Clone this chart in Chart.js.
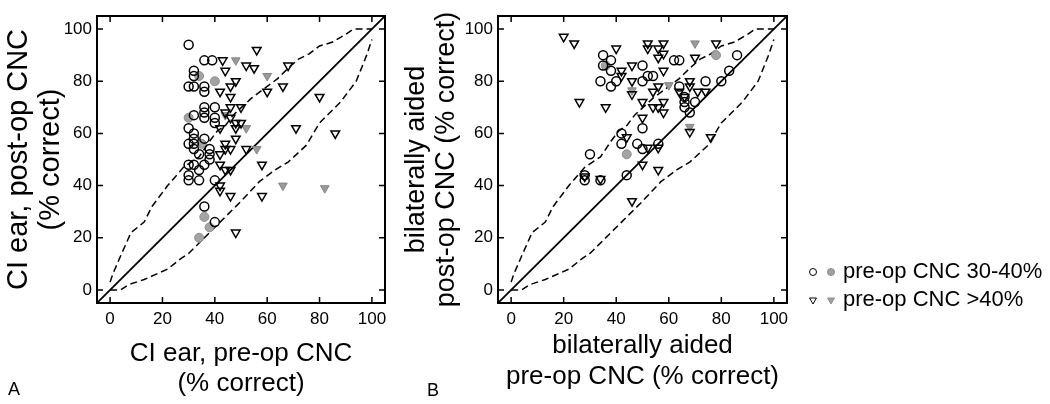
<!DOCTYPE html>
<html>
<head>
<meta charset="utf-8">
<script src="https://cdn.jsdelivr.net/npm/chart.js@4.4.1/dist/chart.umd.min.js"></script>
<style>
  body { margin: 0; background: #fff; }
  #wrap { position: relative; width: 1050px; height: 404px; font-family: 'Liberation Sans', Arial, sans-serif; }
  canvas { position: absolute; top: 0; }
  #cA { left: 0; }
  #cB { left: 400px; }
  .tag { position: absolute; font-size: 18px; line-height: 18px; color: #000; }
</style>
</head>
<body>
<div id="wrap">
  <canvas id="cA" width="400" height="404"></canvas>
  <canvas id="cB" width="650" height="404"></canvas>
  <div class="tag" style="left:8px; top:380px">A</div>
  <div class="tag" style="left:427px; top:381px">B</div>
</div>
<script>
const FONT = "'Liberation Sans', Arial, sans-serif";

// axes
const axisMin = -5, axisMax = 105;
const tickValues = [0, 20, 40, 60, 80, 100];

// 95% band (same in both panels)
const upperBandX = [0, 1, 4, 8, 13, 16, 19, 22, 28, 34, 38, 41, 44, 47, 54, 60, 64, 68, 72, 76, 80, 85, 90, 93, 100];
const upperBandY = [3, 6, 13, 22, 26, 32, 36, 40, 47, 51, 57, 61, 63, 67, 73.5, 78, 81, 85, 88.5, 90.5, 93.5, 95, 98, 100, 100];
const lowerBandX = [0, 4, 7, 13, 22, 27, 30, 37, 42, 50, 57, 63, 68, 75, 80, 84, 88, 94, 98, 100];
const lowerBandY = [0, 0, 2, 4, 8, 12, 14, 21, 26, 34, 41.5, 46, 49, 55.5, 64, 68, 72, 80, 90, 96];

// panel A: CI ear
const aCircleX = [30, 36, 39, 32, 32, 30, 32, 36, 36, 36, 40, 36, 32, 36, 40, 40, 30, 32, 32, 36, 30, 32, 32, 38, 34, 38, 38, 30, 32, 36, 34, 30, 30, 34, 40, 36, 40];
const aCircleY = [94, 88, 88, 84, 82, 78, 78, 78, 76, 70, 70, 68, 67, 66, 66, 64, 62, 60, 58, 58, 56, 56, 54, 54, 52, 52, 50, 48, 48, 48, 46, 44, 42, 42, 42, 32, 26];
const aGrayCircleX = [34, 40, 30, 35, 36, 38, 34];
const aGrayCircleY = [82, 80, 66, 56, 28, 24, 20];
const aTriX = [56, 43, 52, 55, 68, 44, 48, 46, 42, 60, 66, 46, 80, 46, 50, 44, 46, 48, 50, 42, 48, 71, 86, 48, 44, 44, 46, 52, 42, 58, 42, 44, 46, 42, 42, 46, 58, 48];
const aTriY = [92, 88, 86, 85, 86, 84, 80, 78, 76, 76, 78, 74, 74, 70, 70, 68, 66, 64, 64, 62, 62, 62, 60, 58, 56, 54, 54, 54, 52, 48, 48, 46, 46, 40, 38, 36, 36, 22];
const aGrayTriX = [48, 60, 44, 52, 56, 66, 82];
const aGrayTriY = [88, 82, 67, 62, 54, 40, 39];

// panel B: bilaterally aided
const bCircleX = [35, 38, 35, 38, 50, 62, 64, 86, 83, 52, 54, 34, 40, 50, 38, 74, 80, 64, 66, 66, 70, 66, 68, 50, 42, 42, 48, 50, 56, 30, 44, 28, 28, 34];
const bCircleY = [90, 88, 86, 84, 86, 88, 88, 90, 84, 82, 82, 80, 80, 80, 78, 80, 80, 78, 74, 72, 72, 70, 68, 62, 60, 56, 56, 54, 56, 52, 44, 44, 42, 42];
const bGrayCircleX = [36, 78, 44];
const bGrayCircleY = [86, 90, 52];
const bTriX = [20, 24, 40, 52, 52, 56, 58, 58, 78, 56, 70, 42, 46, 42, 58, 46, 68, 56, 46, 54, 68, 64, 71, 74, 66, 26, 36, 50, 54, 58, 56, 58, 50, 68, 76, 44, 56, 52, 50, 56, 28, 34, 46];
const bTriY = [97, 94.5, 92.5, 94.5, 92.5, 92.5, 94.5, 90.5, 94.5, 89, 89, 84, 86, 82, 84, 80, 80, 78, 75, 76, 78, 76, 76, 76, 74, 72, 70, 72, 70, 72, 70, 68, 66, 60.5, 58.5, 58.5, 54.5, 54.5, 48, 46, 43.5, 42.5, 34];
const bGrayTriX = [70, 60, 46, 68];
const bGrayTriY = [94.5, 78.5, 76.5, 62.5];

const pts = (xs, ys) => xs.map((x, i) => ({ x: x, y: ys[i] }));

function markerSets(cx, cy, gcx, gcy, tx, ty, gtx, gty) {
  return [
    { data: pts(cx, cy), pointStyle: 'circle', pointRadius: 4.5, backgroundColor: 'rgba(0,0,0,0)', borderColor: '#000', borderWidth: 1.5 },
    { data: pts(tx, ty), pointStyle: 'triangle', rotation: 180, pointRadius: 5, backgroundColor: 'rgba(0,0,0,0)', borderColor: '#000', borderWidth: 1.5 },
    { data: pts(gcx, gcy), pointStyle: 'circle', pointRadius: 4.5, backgroundColor: '#a3a3a3', borderColor: '#8e8e8e', borderWidth: 1 },
    { data: pts(gtx, gty), pointStyle: 'triangle', rotation: 180, pointRadius: 5, backgroundColor: '#9a9a9a', borderColor: '#858585', borderWidth: 1 },
    { data: pts([axisMin, axisMax], [axisMin, axisMax]), showLine: true, pointRadius: 0, borderColor: '#000', borderWidth: 1.8 },
    { data: pts(upperBandX, upperBandY), showLine: true, pointRadius: 0, borderColor: '#000', borderWidth: 1.5, borderDash: [7, 4] },
    { data: pts(lowerBandX, lowerBandY), showLine: true, pointRadius: 0, borderColor: '#000', borderWidth: 1.5, borderDash: [7, 4] }
  ];
}

// box round the plot plus inward ticks on all four sides
const framePlugin = {
  id: 'frame',
  afterDatasetsDraw(chart) {
    const { ctx, chartArea: a, scales: { x, y } } = chart;
    ctx.save();
    ctx.strokeStyle = '#000';
    ctx.lineWidth = 1.5;
    ctx.beginPath();
    tickValues.forEach(v => {
      const px = x.getPixelForValue(v), py = y.getPixelForValue(v);
      ctx.moveTo(px, a.bottom); ctx.lineTo(px, a.bottom - 6);
      ctx.moveTo(px, a.top); ctx.lineTo(px, a.top + 6);
      ctx.moveTo(a.left, py); ctx.lineTo(a.left + 6, py);
      ctx.moveTo(a.right, py); ctx.lineTo(a.right - 6, py);
    });
    ctx.stroke();
    ctx.lineWidth = 2;
    ctx.strokeRect(a.left, a.top, a.right - a.left, a.bottom - a.top);
    ctx.restore();
  }
};

// legend sits to the right of panel B
const legendRows = ['pre-op CNC 30-40%', 'pre-op CNC >40%'];
const legendPlugin = {
  id: 'sideLegend',
  afterDraw(chart) {
    const ctx = chart.ctx;
    const rows = [
      { y: 272, style: 'circle', r: 3.5, rot: 0 },
      { y: 300, style: 'triangle', r: 4, rot: 180 }
    ];
    ctx.save();
    rows.forEach((row, i) => {
      ctx.strokeStyle = '#000';
      ctx.fillStyle = 'rgba(0,0,0,0)';
      Chart.helpers.drawPoint(ctx, { pointStyle: row.style, radius: row.r, rotation: row.rot, borderWidth: 1.5 }, 413, row.y);
      ctx.strokeStyle = '#8e8e8e';
      ctx.fillStyle = '#a0a0a0';
      Chart.helpers.drawPoint(ctx, { pointStyle: row.style, radius: row.r, rotation: row.rot, borderWidth: 1 }, 431, row.y);
      ctx.fillStyle = '#000';
      ctx.font = '22px ' + FONT;
      ctx.textBaseline = 'middle';
      ctx.textAlign = 'left';
      ctx.fillText(legendRows[i], 443, row.y);
    });
    ctx.restore();
  }
};

function axis(dir, title, size, lh, pad, fit) {
  return {
    type: 'linear',
    min: axisMin,
    max: axisMax,
    afterBuildTicks: s => { s.ticks = tickValues.map(v => ({ value: v })); },
    afterFit: s => { if (dir === 'x') s.height = fit; else s.width = fit; },
    grid: { display: false, drawTicks: false },
    border: { display: false },
    ticks: { color: '#000', font: { family: FONT, size: 17 }, padding: dir === 'x' ? 6 : 5, maxRotation: 0, autoSkip: false },
    title: { display: true, text: title, color: '#000', font: { family: FONT, size: size, lineHeight: lh }, padding: pad }
  };
}

function panel(id, datasets, xTitle, yTitle, opts, extraPlugins) {
  return new Chart(document.getElementById(id), {
    type: 'scatter',
    data: { datasets: datasets },
    options: {
      responsive: false,
      animation: false,
      events: [],
      layout: { padding: { left: 0, top: 16, right: opts.right, bottom: 0 } },
      plugins: { legend: { display: false }, tooltip: { enabled: false } },
      scales: {
        x: axis('x', xTitle, 26, opts.xLH, { top: 0, bottom: opts.xPad }, 101),
        y: axis('y', yTitle, opts.ySize, 1.1, { top: opts.yPad, bottom: 0 }, opts.yWidth)
      }
    },
    plugins: [framePlugin].concat(extraPlugins)
  });
}

panel('cA',
  markerSets(aCircleX, aCircleY, aGrayCircleX, aGrayCircleY, aTriX, aTriY, aGrayTriX, aGrayTriY),
  ['CI ear, pre-op CNC', '(% correct)'],
  ['CI ear, post-op CNC', '(% correct)'],
  { right: 15, xLH: 1.154, xPad: 5, ySize: 29, yPad: 3, yWidth: 97 }, []);

panel('cB',
  markerSets(bCircleX, bCircleY, bGrayCircleX, bGrayCircleY, bTriX, bTriY, bGrayTriX, bGrayTriY),
  ['bilaterally aided', 'pre-op CNC (% correct)'],
  ['bilaterally aided', 'post-op CNC (% correct)'],
  { right: 263, xLH: 1.19, xPad: 12, ySize: 27, yPad: 2, yWidth: 98 }, [legendPlugin]);
</script>
</body>
</html>
